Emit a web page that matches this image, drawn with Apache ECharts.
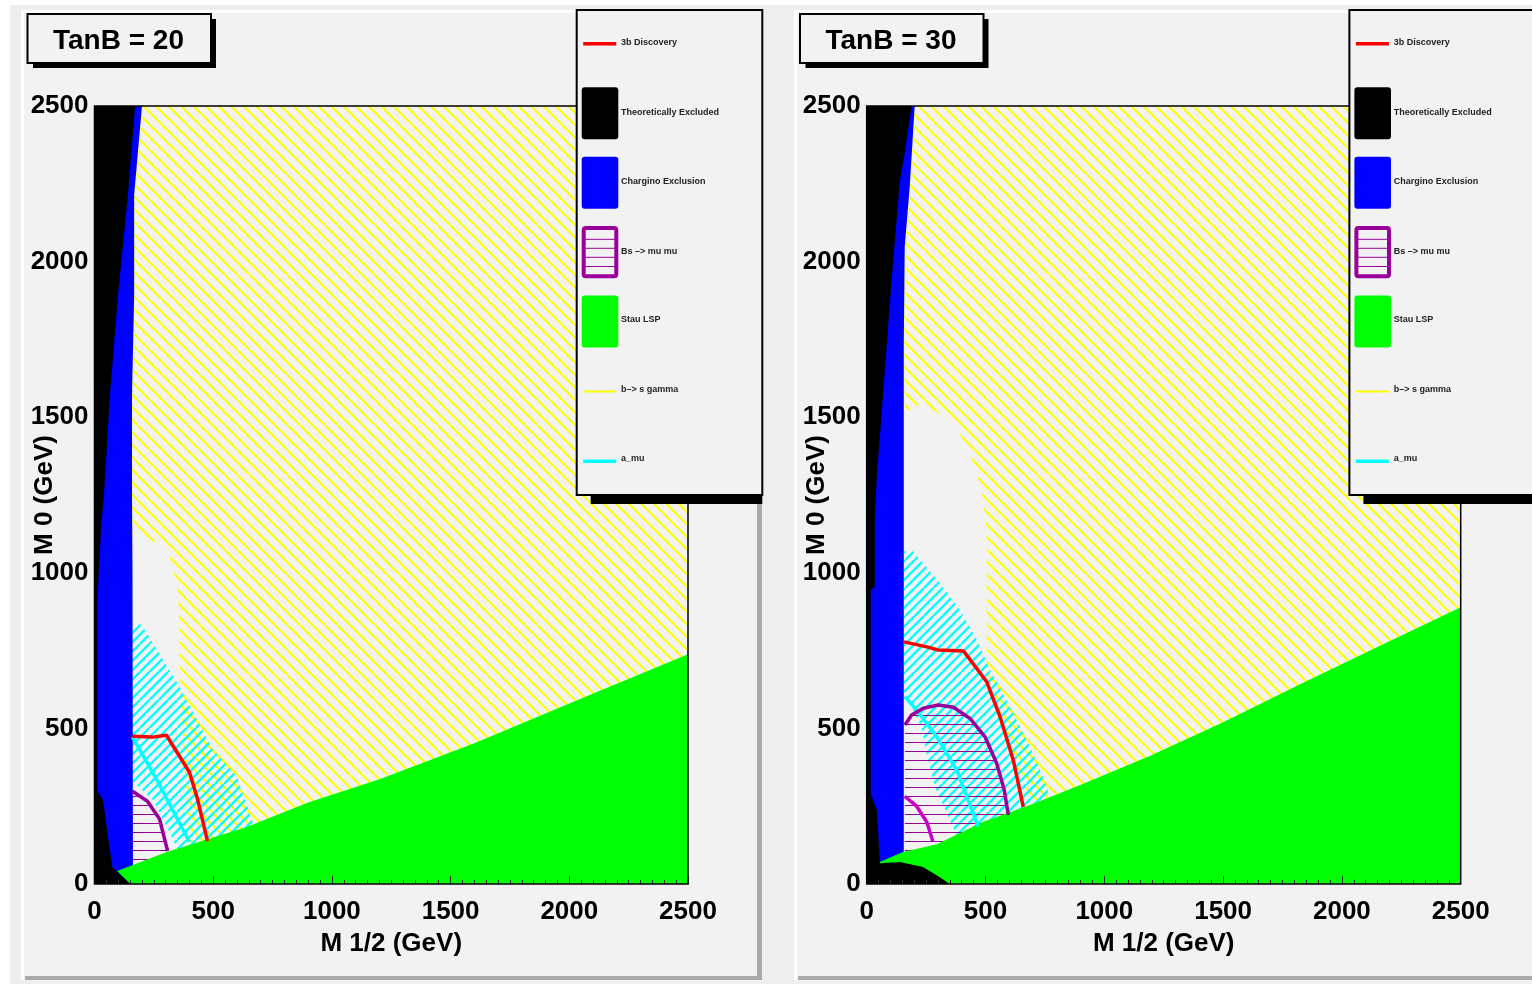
<!DOCTYPE html>
<html>
<head>
<meta charset="utf-8">
<script src="https://cdn.jsdelivr.net/npm/echarts@6/dist/echarts.min.js"></script>
<style>
html,body{margin:0;padding:0;background:#ffffff;}
#chart{width:1532px;height:984px;}
</style>
</head>
<body>
<div id="chart"></div>
<script>
// ---------------- data (M1/2, M0 in GeV) ----------------
const xTicks = [0, 500, 1000, 1500, 2000, 2500];
const panelTitles = ['TanB = 20', 'TanB = 30'];
const legendLabels = ['3b Discovery', 'Theoretically Excluded', 'Chargino Exclusion', 'Bs \u2013> mu mu', 'Stau LSP', 'b\u2013> s gamma', 'a_mu'];

// TanB = 20
const t20_theory = [[0,0],[0,2500],[171,2500],[141,2214],[99,1892],[65,1571],[40,1250],[28,1150],[18,1000],[12,900],[12,300],[36,270],[55,164],[75,55],[150,0]];
const t20_chargino = [[0,0],[0,2500],[200,2500],[167,2214],[167,1892],[158,1571],[158,1250],[160,1000],[162,60],[162,0]];
const t20_stau = [[150,0],[95,42],[304,103],[641,183],[900,262],[1201,337],[1600,452],[2000,580],[2500,738],[2500,0]];
const t20_bsgamma = [[200,2500],[2500,2500],[2500,0],[420,0],[400,120],[385,300],[362,630],[358,800],[352,935],[308,1083],[160,1128],[158,1250],[158,1571],[167,1892],[167,2214]];
const t20_amuBand = [[160,834],[198,834],[358,635],[497,433],[599,347],[666,199],[680,150],[350,110],[318,164],[247,270],[160,330]];
const t20_bsmumu = [[160,298],[223,266],[274,209],[308,106],[312,0],[160,0]];
const t20_disc = [[160,475],[245,472],[303,478],[400,359],[434,273],[476,138]];
const t20_amuLine = [[160,472],[261,337],[400,135]];
const t20_bsmumuLine = [[160,298],[223,266],[274,209],[308,106]];

// TanB = 30
const t30_theory = [[0,0],[0,2500],[189,2500],[160,2349],[139,2253],[105,1941],[84,1726],[63,1515],[42,1300],[34,1169],[34,954],[17,945],[17,292],[43,238],[56,67],[140,71],[237,55],[308,22],[350,0]];
const t30_chargino = [[0,0],[0,2500],[202,2500],[181,2240],[160,2047],[156,1726],[156,1000],[156,109],[150,0]];
const t30_stau = [[55,0],[55,71],[152,103],[295,128],[488,199],[699,257],[909,321],[1191,411],[1500,520],[1824,642],[2200,780],[2500,889],[2500,0]];
const t30_bsgamma = [[202,2500],[2500,2500],[2500,0],[800,0],[740,240],[680,290],[610,400],[560,520],[530,626],[505,690],[505,1139],[484,1268],[434,1386],[383,1460],[307,1513],[216,1540],[160,1513],[156,1726],[160,2047],[181,2240]];
const t30_amuBand = [[156,1069],[194,1069],[295,979],[391,882],[463,786],[518,690],[602,571],[686,443],[758,314],[800,150],[400,120],[350,206],[287,312],[252,421],[231,504],[156,620]];
const t30_bsmumu = [[161,511],[189,543],[238,565],[301,575],[365,568],[435,532],[498,473],[547,388],[579,302],[596,222],[605,0],[160,0]];
const t30_disc = [[157,778],[253,762],[301,752],[407,749],[505,650],[561,538],[617,398],[659,248]];
const t30_amuLine = [[161,602],[210,559],[295,473],[379,366],[470,184]];
const t30_bsmumuLine = [[161,511],[189,543],[238,565],[301,575],[365,568],[435,532],[498,473],[547,388],[579,302],[596,222]];
const t30_bsmumuLine2 = [[160,282],[210,250],[253,199],[278,138]];

// ---------------- styling helpers ----------------
const FONT = '"Liberation Sans", Arial, Helvetica, sans-serif';

function makeHatch(color, width, tile, type, n) {
  const c = document.createElement('canvas');
  c.width = tile; c.height = tile;
  const g = c.getContext('2d');
  g.strokeStyle = color; g.lineWidth = width;
  const step = tile / n;
  g.beginPath();
  for (let k = -n - 1; k <= n + 1; k++) {
    const o = k * step;
    if (type === 'back') { g.moveTo(o, 0); g.lineTo(o + tile, tile); }
    else if (type === 'fwd') { g.moveTo(o, tile); g.lineTo(o + tile, 0); }
    else if (k >= 0 && k < n) { g.moveTo(0, o + step / 2); g.lineTo(tile, o + step / 2); }
  }
  g.stroke();
  return { image: c, repeat: 'repeat' };
}
const yellowHatch = makeHatch('#ffff00', 2.2, 25, 'back', 2);
const cyanHatch = makeHatch('#00ffff', 2.4, 28, 'fwd', 3);
const purpleHatch = makeHatch('#990099', 1, 9, 'h', 1);

function polySeries(gi, pts, fill, z) {
  return {
    type: 'custom', xAxisIndex: gi, yAxisIndex: gi, z: z, silent: true, clip: true,
    data: pts,
    renderItem: function (params, api) {
      if (params.dataIndex !== 0) return null;
      return { type: 'polygon', shape: { points: pts.map(p => api.coord(p)) }, style: { fill: fill } };
    }
  };
}
function lineSeries(gi, pts, color, width) {
  return {
    type: 'line', xAxisIndex: gi, yAxisIndex: gi, z: 8, silent: true,
    data: pts, showSymbol: false, symbol: 'none',
    lineStyle: { color: color, width: width }
  };
}

const grids = [
  { left: 94.5, top: 106, width: 593.5, height: 778, containLabel: false, outerBoundsMode: 'none' },
  { left: 866.7, top: 106, width: 594, height: 778, containLabel: false, outerBoundsMode: 'none' }
];
const plain = v => String(v);

function xAx(gi) {
  return {
    gridIndex: gi, type: 'value', min: 0, max: 2500, interval: 500, z: 9,
    name: 'M 1/2 (GeV)', nameLocation: 'middle', nameGap: 47, nameMoveOverlap: false,
    nameTextStyle: { fontFamily: FONT, fontWeight: 'bold', fontSize: 26, color: '#000' },
    axisLine: { show: false },
    axisTick: { show: true, inside: true, length: 8, lineStyle: { color: '#333', width: 1 } },
    minorTick: { show: true, splitNumber: 10, length: 4, lineStyle: { color: '#333', width: 1 } },
    splitLine: { show: false },
    axisLabel: { fontFamily: FONT, fontWeight: 'bold', fontSize: 26, color: '#000', margin: 15, formatter: plain }
  };
}
function yAx(gi) {
  return {
    gridIndex: gi, type: 'value', min: 0, max: 2500, interval: 500, z: 9,
    name: 'M 0 (GeV)', nameLocation: 'middle', nameGap: 37, nameRotate: 90, nameMoveOverlap: false,
    nameTextStyle: { fontFamily: FONT, fontWeight: 'bold', fontSize: 26, color: '#000' },
    axisLine: { show: false },
    axisTick: { show: false },
    splitLine: { show: false },
    axisLabel: { fontFamily: FONT, fontWeight: 'bold', fontSize: 26, color: '#000', margin: 6, padding: [5, 0, 0, 0], formatter: plain }
  };
}

function panelSeries(gi, d) {
  return [
    polySeries(gi, d.bsgamma, yellowHatch, 2),
    polySeries(gi, d.amuBand, cyanHatch, 3),
    polySeries(gi, d.bsmumu, purpleHatch, 4),
    polySeries(gi, d.chargino, '#0000ff', 5),
    polySeries(gi, d.stau, '#00ff00', 6),
    polySeries(gi, d.theory, '#000000', 7)
  ];
}

const series = [].concat(
  panelSeries(0, { bsgamma: t20_bsgamma, amuBand: t20_amuBand, bsmumu: t20_bsmumu, chargino: t20_chargino, stau: t20_stau, theory: t20_theory }),
  [lineSeries(0, t20_amuLine, '#00ffff', 3.5), lineSeries(0, t20_bsmumuLine, '#990099', 3.5), lineSeries(0, t20_disc, '#ff0000', 3.5)],
  panelSeries(1, { bsgamma: t30_bsgamma, amuBand: t30_amuBand, bsmumu: t30_bsmumu, chargino: t30_chargino, stau: t30_stau, theory: t30_theory }),
  [lineSeries(1, t30_amuLine, '#00ffff', 3.5), lineSeries(1, t30_bsmumuLine, '#990099', 3.5), lineSeries(1, t30_bsmumuLine2, '#cc00cc', 3.5), lineSeries(1, t30_disc, '#ff0000', 3.5)]
);

// ---------------- decorations (pads, title boxes, legends) ----------------
const G = [];
function rect(x, y, w, h, fill, z, extra) {
  G.push(Object.assign({ type: 'rect', z: z, silent: true, shape: { x: x, y: y, width: w, height: h }, style: { fill: fill } }, extra || {}));
}
// canvas & pads
rect(10, 5, 1522, 979, '#eeeeee', 0);
[[21, 10, 741], [794, 10, 760]].forEach(([x, y, w]) => {
  rect(x, y, w, 970, '#f2f2f2', 0);
  rect(x, y, w, 3, '#ffffff', 0);
  rect(x, y, 3, 970, '#ffffff', 0);
  rect(x + 4, 976, w - 4, 4, '#aaaaaa', 0);
  rect(x + w - 5, y + 4, 5, 970 - 4, '#aaaaaa', 0);
});
// plot frames
grids.forEach(g => {
  G.push({ type: 'rect', z: 15, silent: true, shape: { x: g.left, y: g.top, width: g.width, height: g.height }, style: { fill: 'none', stroke: '#000', lineWidth: 1.5 } });
});
// title boxes
[[27.5, 14], [800, 14]].forEach(([x, y], i) => {
  rect(x + 5.5, y + 5, 183, 49, '#000000', 20);
  G.push({ type: 'rect', z: 21, silent: true, shape: { x: x, y: y, width: 183.5, height: 49 }, style: { fill: '#f2f2f2', stroke: '#000', lineWidth: 2 } });
  G.push({ type: 'text', z: 22, silent: true, x: x + 91, y: y + 27, style: { text: panelTitles[i], font: 'bold 28px ' + FONT, fill: '#000', align: 'center', verticalAlign: 'middle' } });
});
// legends
[576.7, 1349.4].forEach(lx => {
  const w = 762.3 - 576.7 + (lx > 1000 ? 40 : 0);
  rect(lx + 14, 20, w - 14, 484, '#000000', 20);
  G.push({ type: 'rect', z: 21, silent: true, shape: { x: lx, y: 10, width: w, height: 485 }, style: { fill: '#f2f2f2', stroke: '#000', lineWidth: 2 } });
  const tx = lx + 44.3;
  const txt = (s, y) => G.push({ type: 'text', z: 23, silent: true, x: tx, y: y, style: { text: s, font: 'bold 9px ' + FONT, fill: '#222', align: 'left', verticalAlign: 'middle' } });
  const line = (y, color, lw) => G.push({ type: 'line', z: 22, silent: true, shape: { x1: lx + 6.5, y1: y, x2: lx + 39.5, y2: y }, style: { stroke: color, lineWidth: lw } });
  const box = (y, fill) => G.push({ type: 'rect', z: 22, silent: true, shape: { x: lx + 5, y: y, width: 36.6, height: 52, r: 3 }, style: { fill: fill } });
  line(43.7, '#ff0000', 3.5); txt(legendLabels[0], 42.5);
  box(87.3, '#000000'); txt(legendLabels[1], 112.7);
  box(156.7, '#0000ff'); txt(legendLabels[2], 181.7);
  G.push({ type: 'rect', z: 22, silent: true, shape: { x: lx + 7, y: 228, width: 32.6, height: 48.3, r: 2 }, style: { fill: '#f2f2f2', stroke: '#990099', lineWidth: 4 } });
  [239.3, 248.3, 257.3, 266.5].forEach(yy => G.push({ type: 'line', z: 22, silent: true, shape: { x1: lx + 7, y1: yy, x2: lx + 39.6, y2: yy }, style: { stroke: '#990099', lineWidth: 1 } }));
  txt(legendLabels[3], 251.7);
  box(295.5, '#00ff00'); txt(legendLabels[4], 319.3);
  line(391.5, '#ffff00', 2); txt(legendLabels[5], 389.5);
  line(461.3, '#00ffff', 3.5); txt(legendLabels[6], 459);
});

const chart = echarts.init(document.getElementById('chart'), null, { renderer: 'canvas' });
chart.setOption({
  animation: false,
  backgroundColor: '#ffffff',
  grid: grids,
  xAxis: [xAx(0), xAx(1)],
  yAxis: [yAx(0), yAx(1)],
  series: series,
  graphic: { elements: G }
});
</script>
</body>
</html>
